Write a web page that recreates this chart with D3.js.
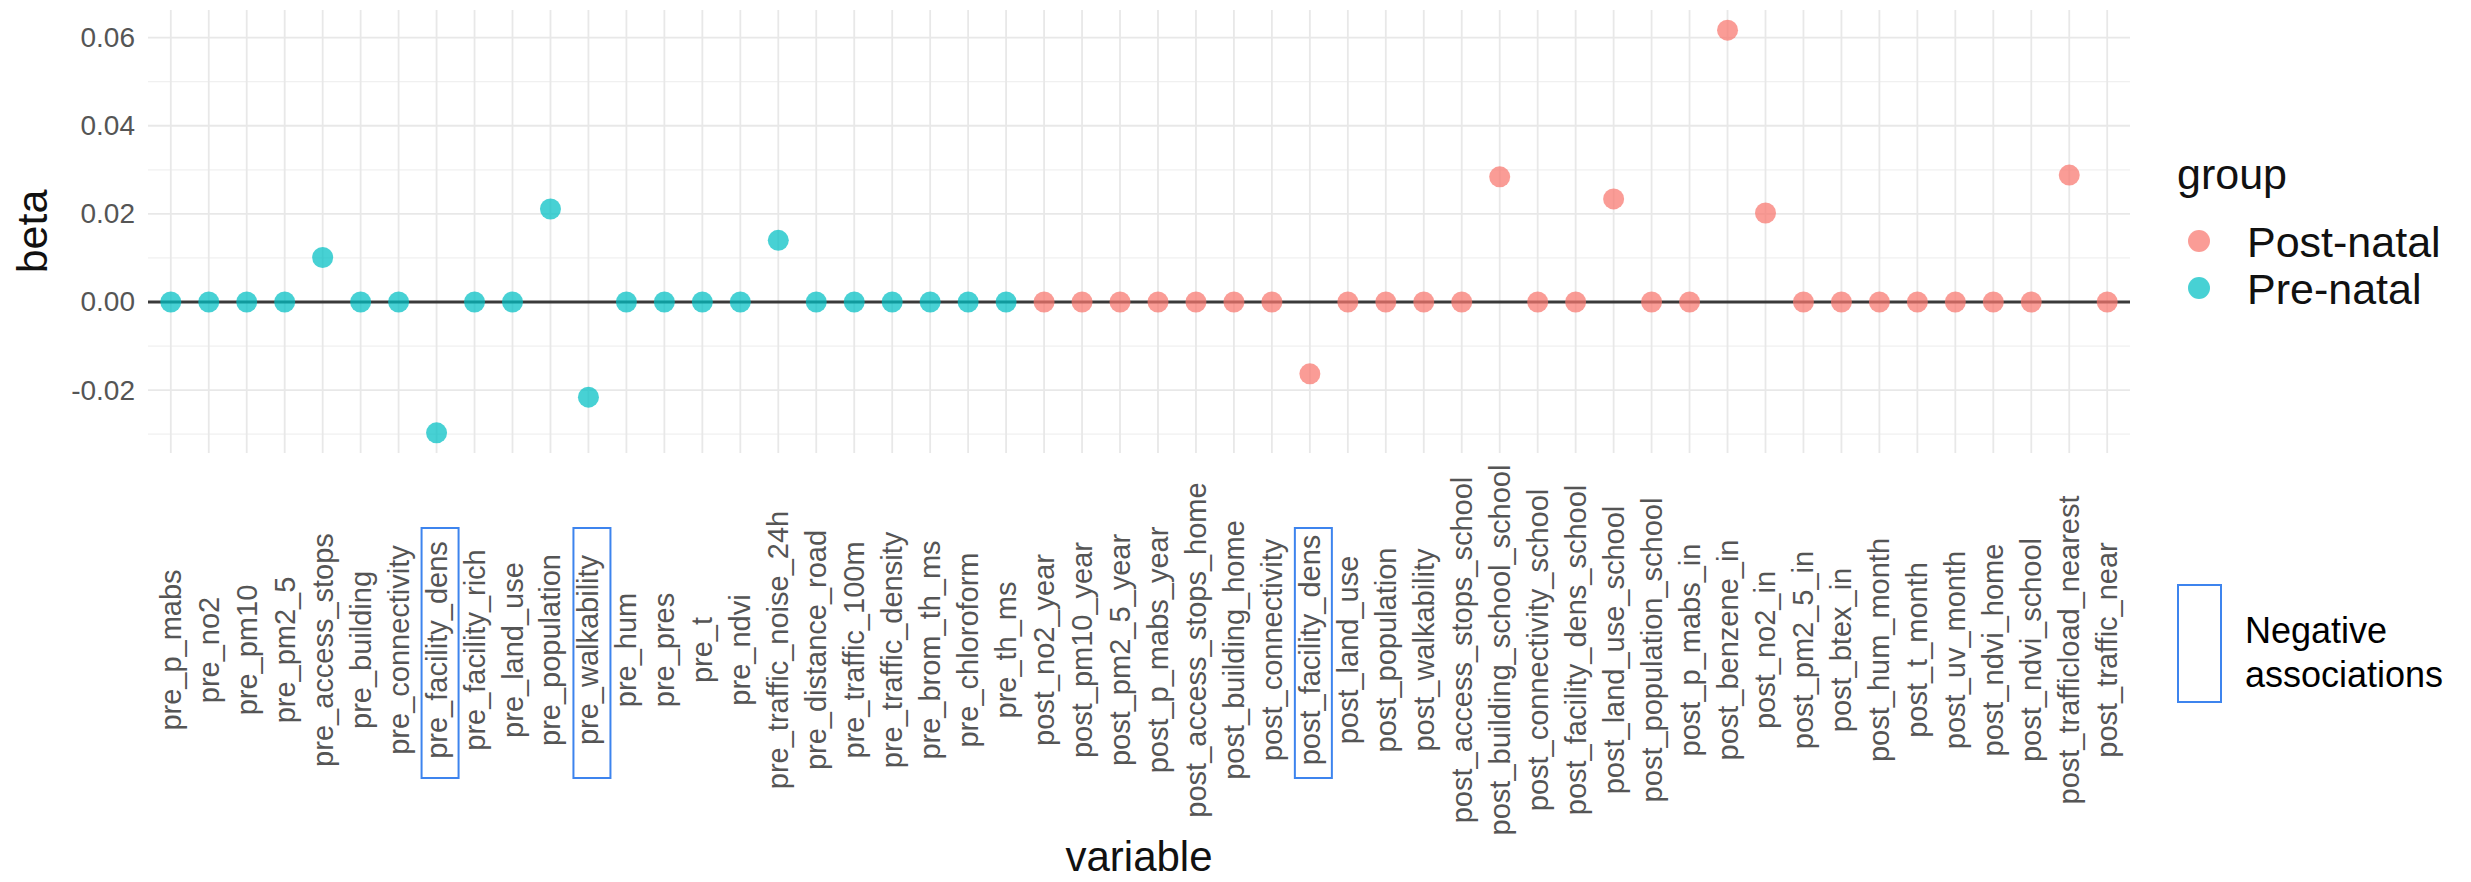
<!DOCTYPE html>
<html>
<head>
<meta charset="utf-8">
<script src="https://cdn.jsdelivr.net/npm/d3@7"></script>
<style>
  body { margin: 0; background: #fff; }
  text { font-family: "Liberation Sans", Arial, sans-serif; }
</style>
</head>
<body>
<div id="chart"></div>
<script>
'use strict'
// variables in plotting order
let preVars = ["pre_p_mabs", "pre_no2", "pre_pm10", "pre_pm2_5", "pre_access_stops", "pre_building",
  "pre_connectivity", "pre_facility_dens", "pre_facility_rich", "pre_land_use", "pre_population",
  "pre_walkability", "pre_hum", "pre_pres", "pre_t", "pre_ndvi", "pre_traffic_noise_24h",
  "pre_distance_road", "pre_traffic_100m", "pre_traffic_density", "pre_brom_th_ms", "pre_chloroform", "pre_th_ms"]
let preBeta = [0, 0, 0, 0, 0.0101, 0, 0, -0.0297, 0, 0, 0.0211, -0.0216, 0, 0, 0, 0, 0.0140, 0, 0, 0, 0, 0, 0]

let postVars = ["post_no2_year", "post_pm10_year", "post_pm2_5_year", "post_p_mabs_year", "post_access_stops_home",
  "post_building_home", "post_connectivity", "post_facility_dens", "post_land_use", "post_population",
  "post_walkability", "post_access_stops_school", "post_building_school_school", "post_connectivity_school",
  "post_facility_dens_school", "post_land_use_school", "post_population_school", "post_p_mabs_in",
  "post_benzene_in", "post_no2_in", "post_pm2_5_in", "post_btex_in", "post_hum_month", "post_t_month",
  "post_uv_month", "post_ndvi_home", "post_ndvi_school", "post_trafficload_nearest", "post_traffic_near"]
let postBeta = [0, 0, 0, 0, 0, 0, 0, -0.0163, 0, 0, 0, 0, 0.0284, 0, 0, 0.0234, 0, 0, 0.0617, 0.0202,
  0, 0, 0, 0, 0, 0, 0, 0.0288, 0]

let groups = ["Post-natal", "Pre-natal"]
let negativeVars = ["pre_facility_dens", "pre_walkability", "post_facility_dens"]
let yTicks = [-0.02, 0, 0.02, 0.04, 0.06]
let yMinor = [-0.03, -0.01, 0.01, 0.03, 0.05]

let data = preVars.map((v, i) => ({variable: v, beta: preBeta[i], group: "Pre-natal"}))
  .concat(postVars.map((v, i) => ({variable: v, beta: postBeta[i], group: "Post-natal"})))

let W = 2471, H = 882
let panel = {left: 148, right: 2130, top: 10, bottom: 453}

let svg = d3.select("#chart").append("svg").attr("width", W).attr("height", H)

let x = d3.scalePoint()
  .domain(data.map(d => d.variable))
  .range([panel.left, panel.right])
  .padding(0.6)

let ext = d3.extent(data, d => d.beta)
let pad = (ext[1] - ext[0]) * 0.05
let y = d3.scaleLinear()
  .domain([ext[0] - pad, ext[1] + pad])
  .range([panel.bottom, panel.top])

let color = d3.scaleOrdinal().domain(groups).range(["#F8766D", "#00BFC4"])

// grid
let grid = svg.append("g")
grid.selectAll(".minor").data(yMinor).enter().append("line")
  .attr("x1", panel.left).attr("x2", panel.right)
  .attr("y1", d => y(d)).attr("y2", d => y(d))
  .attr("stroke", "#f0f0f0").attr("stroke-width", 1.2)
grid.selectAll(".major").data(yTicks).enter().append("line")
  .attr("x1", panel.left).attr("x2", panel.right)
  .attr("y1", d => y(d)).attr("y2", d => y(d))
  .attr("stroke", "#e8e8e8").attr("stroke-width", 1.8)
grid.selectAll(".vmajor").data(x.domain()).enter().append("line")
  .attr("x1", d => x(d)).attr("x2", d => x(d))
  .attr("y1", panel.top).attr("y2", panel.bottom)
  .attr("stroke", "#e8e8e8").attr("stroke-width", 1.8)

// zero line
svg.append("line")
  .attr("x1", panel.left).attr("x2", panel.right)
  .attr("y1", y(0)).attr("y2", y(0))
  .attr("stroke", "#3a3a3a").attr("stroke-width", 3)

// points
svg.append("g").selectAll("circle").data(data).enter().append("circle")
  .attr("cx", d => x(d.variable))
  .attr("cy", d => y(d.beta))
  .attr("r", 10.5)
  .attr("fill", d => color(d.group))
  .attr("fill-opacity", 0.72)

// y axis
let yAxis = d3.axisLeft(y).tickValues(yTicks).tickSize(0).tickPadding(13)
  .tickFormat(d => d3.format(".2f")(d).replace("−", "-"))
let ya = svg.append("g").attr("transform", "translate(" + panel.left + ",0)").call(yAxis)
ya.select(".domain").remove()
ya.selectAll("text").style("font-size", "28px").attr("fill", "#555")
  .style("font-family", "Liberation Sans, Arial, sans-serif")

// x axis labels, rotated and centred
let xl = svg.append("g")
xl.selectAll("text").data(x.domain()).enter().append("text")
  .attr("transform", d => "translate(" + (x(d) + 10) + ",650) rotate(-90)")
  .attr("text-anchor", "middle")
  .style("font-size", "29px")
  .attr("fill", "#555")
  .text(d => d)

// boxes around negative associations
svg.append("g").selectAll("rect").data(negativeVars).enter().append("rect")
  .attr("x", d => x(d) - 15)
  .attr("y", 528)
  .attr("width", 37)
  .attr("height", 250)
  .attr("fill", "none")
  .attr("stroke", "#3d84ee")
  .attr("stroke-width", 2)

// axis titles
svg.append("text").attr("x", (panel.left + panel.right) / 2).attr("y", 871)
  .attr("text-anchor", "middle").style("font-size", "42px").attr("fill", "#111")
  .text("variable")
svg.append("text").attr("transform", "translate(47," + ((panel.top + panel.bottom) / 2) + ") rotate(-90)")
  .attr("text-anchor", "middle").style("font-size", "43px").attr("fill", "#111")
  .text("beta")

// legend
let lg = svg.append("g")
lg.append("text").attr("x", 2177).attr("y", 189).style("font-size", "43px").attr("fill", "#111").text("group")
let items = lg.selectAll(".item").data(groups).enter().append("g")
  .attr("transform", (d, i) => "translate(0," + (241 + i * 47) + ")")
items.append("circle").attr("cx", 2199).attr("cy", 0).attr("r", 11)
  .attr("fill", d => color(d)).attr("fill-opacity", 0.72)
items.append("text").attr("x", 2247).attr("y", 16).style("font-size", "43px").attr("fill", "#111")
  .text(d => d)

// annotation key
svg.append("rect").attr("x", 2178).attr("y", 585).attr("width", 43).attr("height", 117)
  .attr("fill", "none").attr("stroke", "#3d84ee").attr("stroke-width", 2)
svg.append("text").attr("x", 2245).attr("y", 643).style("font-size", "36px").attr("fill", "#000").text("Negative")
svg.append("text").attr("x", 2245).attr("y", 687).style("font-size", "36px").attr("fill", "#000").text("associations")
</script>
</body>
</html>
